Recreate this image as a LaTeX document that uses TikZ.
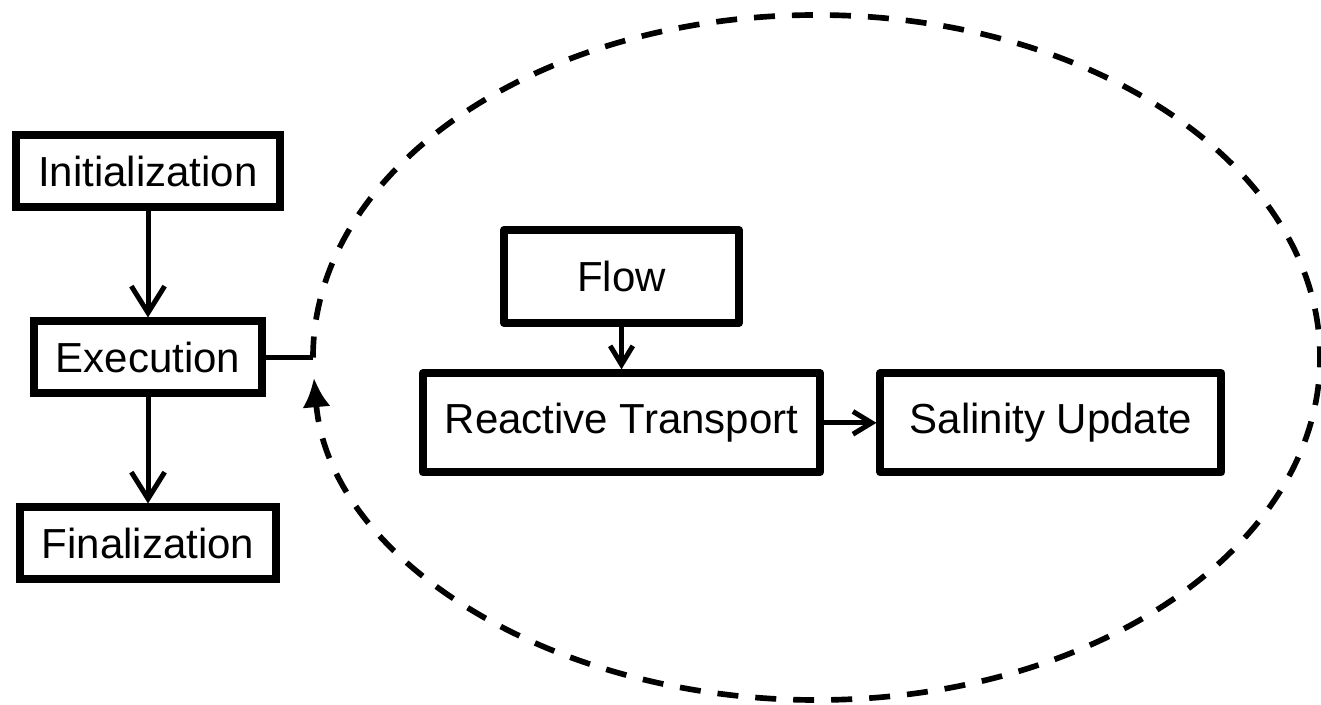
\documentclass[tikz,border=0pt]{standalone}
\usepackage{fontspec}
\setmainfont{Liberation Sans}
\usetikzlibrary{arrows.meta, positioning}

\begin{document}
\begin{tikzpicture}[
        x=0.75pt, y=-0.75pt,
        node distance=79.5pt,
        stage/.style={rectangle, draw=black, line width=6pt, minimum height=54pt, inner xsep=16.5pt, align=center, font=\fontsize{31.5}{36}\selectfont},
        process/.style={stage, line join=round, minimum height=74.25pt},
        bigarrow/.style={line width=3.75pt, -{Straight Barb[length=20pt,width=25pt]}},
        smallarrow/.style={line width=3.75pt, -{Straight Barb[length=14pt,width=17pt]}},
        cyclepath/.style={line width=4.25pt, dash pattern=on 15.75pt off 12.75pt, -{Latex[length=22pt,width=21pt]}}
    ]
        \useasboundingbox (0,0) rectangle (1321,705);

        % Main stages
        \node[stage] (init) at (148,171.5) {Initialization};
        \node[stage, below=of init] (exec) {Execution};
        \node[stage, below=of exec] (final) {Finalization};

        % Time step processes
        \node[process, minimum width=176.25pt, minimum height=69.75pt] (flow) at (621.5,276.5) {Flow};
        \node[process, below=31.75pt of flow] (react) {Reactive Transport};
        \node[process, right=39.25pt of react, minimum width=255.75pt] (salinity) {Salinity Update};

        % Connections
        \draw[bigarrow] (init) -- (exec);
        \draw[bigarrow] (exec) -- (final);
        \draw[smallarrow] (flow) -- (react);
        \draw[smallarrow] (react) -- (salinity);

        % Time loop
        \coordinate (loopstart) at (313,357.5);
        \draw[line width=4pt] (exec) -- (loopstart);
        \draw[cyclepath] (loopstart) arc[start angle=180, end angle=536.6, x radius=503.5, y radius=342.5];
    \end{tikzpicture}
\end{document}
